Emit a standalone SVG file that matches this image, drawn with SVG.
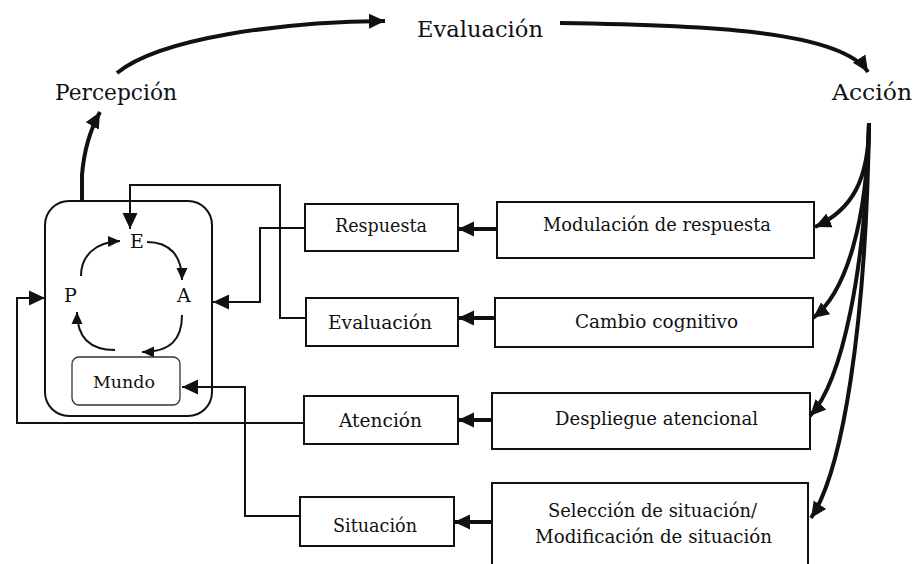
<svg xmlns="http://www.w3.org/2000/svg" width="916" height="564" viewBox="0 0 916 564">
<style>
text{font-family:"DejaVu Serif","Liberation Serif",serif;fill:#111;}
.top{font-size:23px;}
.lbl{font-size:19px;}
.in{font-size:19px;}
.box{fill:#fff;stroke:#111;stroke-width:2;}
.wire{fill:none;stroke:#111;stroke-width:2;}
.thick{fill:none;stroke:#111;stroke-width:4;}
.arc{fill:none;stroke:#111;stroke-width:2;}
</style>
<defs>
<marker id="ah" markerUnits="userSpaceOnUse" markerWidth="17" markerHeight="17" refX="16" refY="8.5" orient="auto"><path d="M0,1 L16,8.5 L0,16 z" fill="#111"/></marker>
<marker id="as" markerUnits="userSpaceOnUse" markerWidth="13" markerHeight="13" refX="12" refY="6.5" orient="auto"><path d="M0,1 L12,6.5 L0,12 z" fill="#111"/></marker>
</defs>
<rect width="916" height="564" fill="#fff"/>

<g id="percepcion"><text class="top" x="55" y="100" textLength="122" lengthAdjust="spacingAndGlyphs">Percepción</text></g>
<g id="evaluacion-top"><text class="top" x="417" y="37" textLength="126" lengthAdjust="spacingAndGlyphs">Evaluación</text></g>
<g id="accion"><text class="top" x="832" y="100" textLength="80" lengthAdjust="spacingAndGlyphs">Acción</text></g>

<g id="core">
<rect class="box" x="45" y="201" width="167" height="215" rx="24"/>
<text class="in" x="130" y="248">E</text>
<text class="in" x="64" y="302">P</text>
<text class="in" x="177" y="302">A</text>
<path class="arc" marker-end="url(#as)" d="M81,276 C81,256 95,242 120,241"/>
<path class="arc" marker-end="url(#as)" d="M147,242 C170,242 182,256 182,280"/>
<path class="arc" marker-end="url(#as)" d="M182,315 C182,340 170,352 142,352"/>
<path class="arc" marker-end="url(#as)" d="M115,350 C90,350 77,338 77,312"/>
</g>
<g id="mundo">
<rect x="72" y="357" width="108" height="48" rx="7" fill="#fff" stroke="#333" stroke-width="1.3"/>
<text x="93" y="388" textLength="62" lengthAdjust="spacingAndGlyphs" style="font-size:17px">Mundo</text>
</g>

<g id="respuesta"><rect class="box" x="305" y="204" width="153" height="47"/><text class="lbl" x="335" y="232" textLength="92" lengthAdjust="spacingAndGlyphs">Respuesta</text></g>
<g id="evaluacion"><rect class="box" x="306" y="298" width="152" height="48"/><text class="lbl" x="328" y="329" textLength="104" lengthAdjust="spacingAndGlyphs">Evaluación</text></g>
<g id="atencion"><rect class="box" x="304" y="396" width="154" height="48"/><text class="lbl" x="339" y="427" textLength="83" lengthAdjust="spacingAndGlyphs">Atención</text></g>
<g id="situacion"><rect class="box" x="300" y="497" width="154" height="49"/><text class="lbl" x="333" y="532" textLength="84" lengthAdjust="spacingAndGlyphs">Situación</text></g>

<g id="modulacion"><rect class="box" x="497" y="202" width="317" height="56"/><text class="lbl" x="543" y="231" textLength="228" lengthAdjust="spacingAndGlyphs">Modulación de respuesta</text></g>
<g id="cambio"><rect class="box" x="495" y="298" width="318" height="49"/><text class="lbl" x="575" y="328" textLength="163" lengthAdjust="spacingAndGlyphs">Cambio cognitivo</text></g>
<g id="despliegue"><rect class="box" x="492" y="393" width="318" height="56"/><text class="lbl" x="555" y="425" textLength="203" lengthAdjust="spacingAndGlyphs">Despliegue atencional</text></g>
<g id="seleccion"><rect class="box" x="492" y="483" width="316" height="82"/><text class="lbl" x="548" y="517" textLength="209" lengthAdjust="spacingAndGlyphs">Selección de situación/</text><text class="lbl" x="535" y="543" textLength="237" lengthAdjust="spacingAndGlyphs">Modificación de situación</text></g>

<g id="connectors">
<path class="thick" marker-end="url(#ah)" d="M117,73 C160,38 280,22 385,21"/>
<path class="thick" marker-end="url(#ah)" d="M560,23 C700,25 840,30 868,72"/>
<path class="thick" marker-end="url(#ah)" d="M82,202 L82,175 C84,150 90,130 100,112"/>
<path class="thick" marker-end="url(#ah)" d="M869,123 C869,180 852,210 815,227"/>
<path class="thick" marker-end="url(#ah)" d="M869,123 C867,220 847,292 813,318"/>
<path class="thick" marker-end="url(#ah)" d="M869,123 C866,270 842,382 810,416"/>
<path class="thick" marker-end="url(#ah)" d="M869,123 C866,330 842,472 811,518"/>
<path class="thick" marker-end="url(#ah)" d="M497,229 L458,229"/>
<path class="thick" marker-end="url(#ah)" d="M495,318 L458,318"/>
<path class="thick" marker-end="url(#ah)" d="M492,420 L458,420"/>
<path class="thick" marker-end="url(#ah)" d="M492,522 L454,522"/>
<path class="wire" marker-end="url(#ah)" d="M305,228 L260,228 L260,302 L213,302"/>
<path class="wire" marker-end="url(#ah)" d="M306,318 L280,318 L280,185 L130,185 L130,229"/>
<path class="wire" marker-end="url(#ah)" d="M304,423 L17,423 L17,298 L45,298"/>
<path class="wire" marker-end="url(#ah)" d="M300,516 L245,516 L245,387 L182,387"/>
</g>
</svg>
